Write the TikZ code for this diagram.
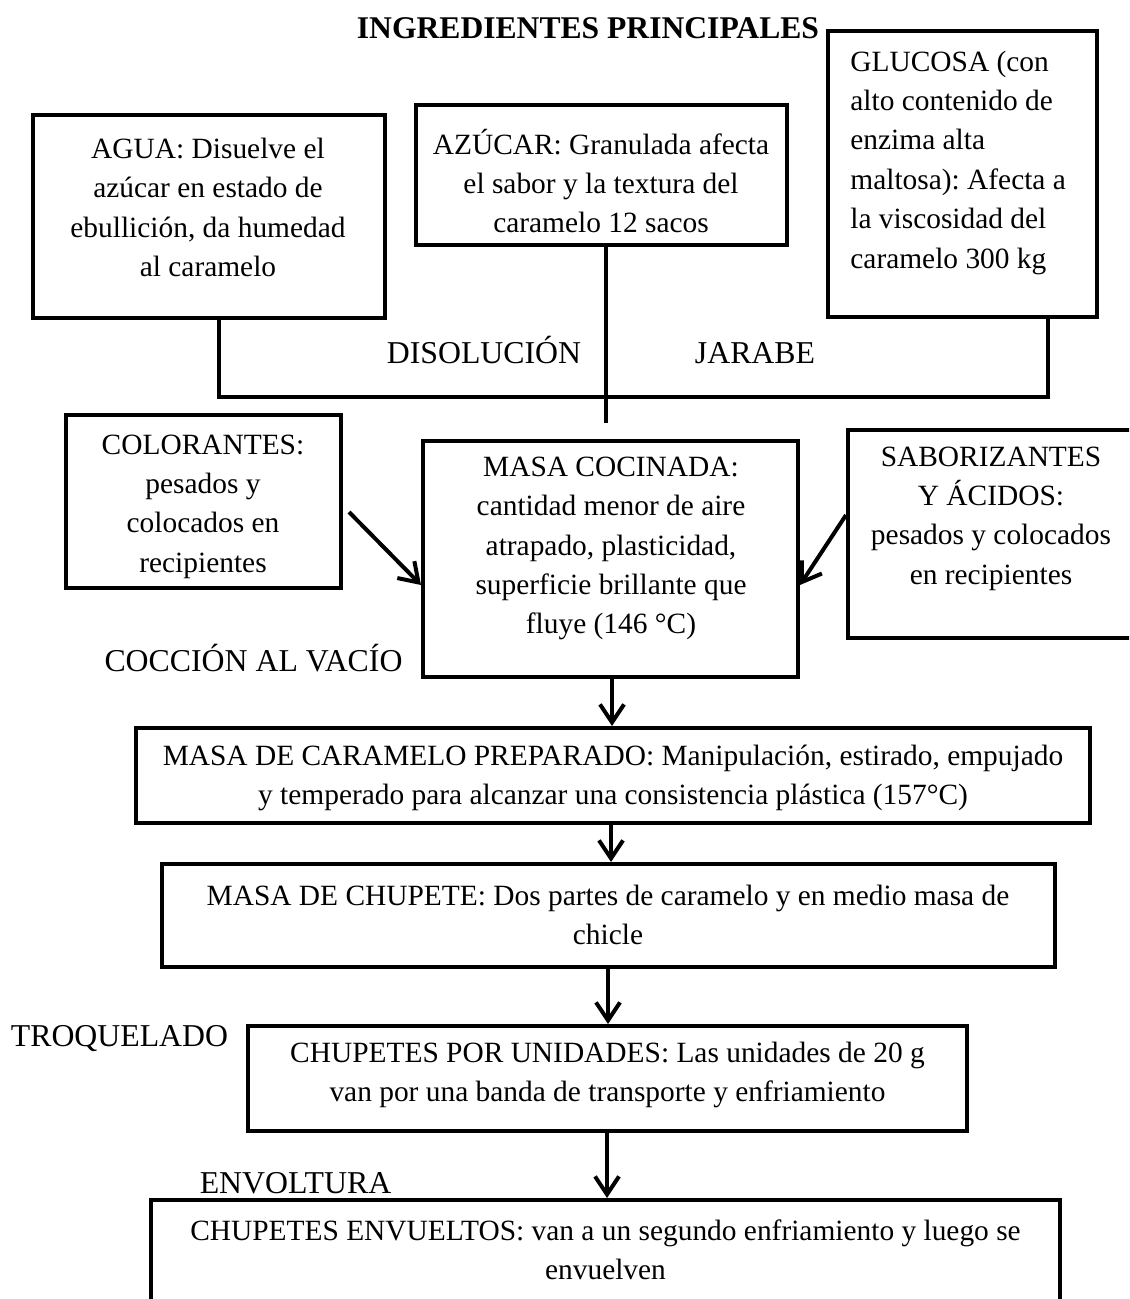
\documentclass[tikz,border=0pt]{standalone}
\usepackage{fontspec}
\setmainfont{Liberation Serif}
\usetikzlibrary{arrows.meta,calc}
\frenchspacing

\tikzset{
  box/.style={draw, line width=2pt, inner sep=0pt},
  txt/.style={font=\fontsize{14.7}{19.7}\selectfont, align=center, inner sep=0pt},
  lbl/.style={font=\fontsize{15.9}{19}\selectfont, inner sep=0pt, anchor=base},
  ttl/.style={font=\fontsize{15.8}{19}\selectfont\bfseries, inner sep=0pt, anchor=base},
  link/.style={line width=2pt},
  arr/.style={line width=2pt, -{Straight Barb[length=9pt, width=12pt]}}
}

\begin{document}
\begin{tikzpicture}[x=0.5pt, y=-0.5pt]
\useasboundingbox (0,0) rectangle (1129,1299);
\clip (0,0) rectangle (1129,1299);

% title
\node[ttl] (title) at (588,38.5) {INGREDIENTES PRINCIPALES};

% ingredient boxes
\node[box, minimum width=176pt, minimum height=101.5pt] (agua) at (209,216.5) {};
\node[txt] (agua-t) at (208,207.5) {AGUA: Disuelve el\\az\'ucar en estado de\\ebullici\'on, da humedad\\al caramelo};

\node[box, minimum width=185.5pt, minimum height=70pt] (azucar) at (601.5,175) {};
\node[txt] (azucar-t) at (601,181) {AZ\'UCAR: Granulada afecta\\el sabor y la textura del\\caramelo 12 sacos};

\node[box, minimum width=134.5pt, minimum height=143pt] (glucosa) at (962.5,174) {};
\node[txt, align=left, anchor=west] (glucosa-t) at (850,162.5) {GLUCOSA (con\\alto contenido de\\enzima alta\\maltosa): Afecta a\\la viscosidad del\\caramelo 300 kg};

% joining lines under the ingredients
\coordinate (jL) at (219,397);
\coordinate (jR) at (1048,397);
\coordinate (jM) at (606,423);
\draw[link] (agua.south -| jL) -- (jL) -- (jR) -- (glucosa.south -| jR);
\draw[link] (azucar.south -| jM) -- (jM);

\node[lbl] (disol) at (484,364) {DISOLUCI\'ON};
\node[lbl] (jarabe) at (755,364) {JARABE};

% cooking stage
\node[box, minimum width=137.5pt, minimum height=86.5pt] (colorantes) at (203.5,501.5) {};
\node[txt] (colorantes-t) at (203,506.5) {COLORANTES:\\pesados y\\colocados en\\recipientes};

\node[box, minimum width=187.5pt, minimum height=118pt] (masa) at (610.5,559) {};
\node[txt] (masa-t) at (611,548.5) {MASA COCINADA:\\cantidad menor de aire\\atrapado, plasticidad,\\superficie brillante que\\fluye (146 °C)};

\node[box, minimum width=144pt, minimum height=104pt] (sabor) at (992,534) {};
\node[txt] (sabor-t) at (991,518.5) {SABORIZANTES\\Y \'ACIDOS:\\pesados y colocados\\en recipientes};

\draw[arr] ($(colorantes.east)+(6,10.5)$) -- ($(masa.west)+(0,26)$);
\draw[arr] ($(sabor.west)+(0,-19)$) -- ($(masa.east)+(0,26)$);

\node[lbl] (coccion) at (253.5,671) {COCCI\'ON AL VAC\'IO};

% process chain
\node[box, minimum width=477pt, minimum height=47.5pt] (caramelo) at (613,775.5) {};
\node[txt] (caramelo-t) at (613,778) {MASA DE CARAMELO PREPARADO: Manipulaci\'on, estirado, empujado\\y temperado para alcanzar una consistencia pl\'astica (157°C)};

\node[box, minimum width=446.5pt, minimum height=51.5pt] (chupete) at (608.5,915.5) {};
\node[txt] (chupete-t) at (608,915) {MASA DE CHUPETE: Dos partes de caramelo y en medio masa de\\chicle};

\node[box, minimum width=359.5pt, minimum height=52.5pt] (unidades) at (607.5,1078.5) {};
\node[txt] (unidades-t) at (607.5,1075) {CHUPETES POR UNIDADES: Las unidades de 20 g\\van por una banda de transporte y enfriamiento};

\node[box, minimum width=454.5pt, minimum height=65pt] (envueltos) at (605.5,1265) {};
\node[txt] (envueltos-t) at (605.5,1249.5) {CHUPETES ENVUELTOS: van a un segundo enfriamiento y luego se\\envuelven};

\node[lbl] (troquel) at (119.5,1046) {TROQUELADO};
\node[lbl] (envoltura) at (295.5,1193) {ENVOLTURA};

% downward arrows
\coordinate (c1) at (612,0);
\coordinate (c2) at (611,0);
\coordinate (c3) at (608,0);
\coordinate (c4) at (607,0);
\draw[arr] (masa.south -| c1) -- (caramelo.north -| c1);
\draw[arr] (caramelo.south -| c2) -- (chupete.north -| c2);
\draw[arr] (chupete.south -| c3) -- (unidades.north -| c3);
\draw[arr] (unidades.south -| c4) -- (envueltos.north -| c4);
\end{tikzpicture}
\end{document}
